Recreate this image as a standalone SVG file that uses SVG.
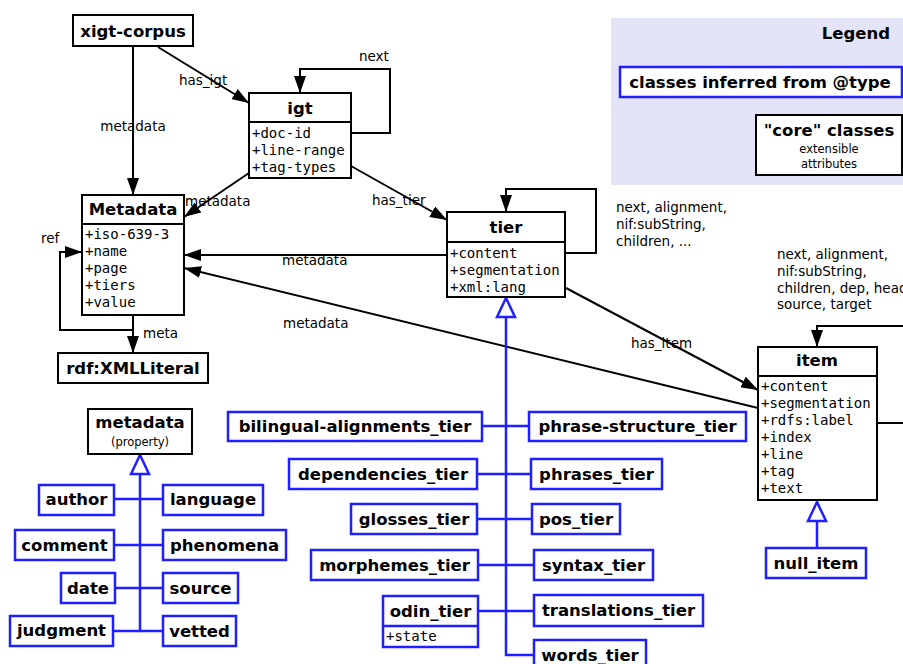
<svg xmlns="http://www.w3.org/2000/svg" width="903" height="664" viewBox="0 0 903 664">
<defs>
<style>
.box{fill:#fff;stroke:#000;stroke-width:2}
.bbox{fill:#fff;stroke:#1f1fff;stroke-width:2.5}
.t{font-family:"DejaVu Sans",sans-serif;font-weight:bold;font-size:16.5px;text-anchor:middle;fill:#000}
.a{font-family:"DejaVu Sans Mono",monospace;font-size:14px;fill:#000}
.l{font-family:"DejaVu Sans",sans-serif;font-size:13.5px;fill:#000}
.s{font-family:"DejaVu Sans",sans-serif;font-size:11.5px;text-anchor:middle;fill:#000}
.e{stroke:#000;stroke-width:2;fill:none}
.be{stroke:#1f1fff;stroke-width:2.5;fill:none}
.tri{fill:#fff;stroke:#1f1fff;stroke-width:2.5}
</style>
<marker id="ah" markerWidth="17" markerHeight="12" refX="17" refY="6" orient="auto" markerUnits="userSpaceOnUse"><path d="M0,0 L17,6 L0,12 z" fill="#000"/></marker>
</defs>
<rect width="903" height="664" fill="#fff"/>

<g id="legend">
<rect x="611" y="18" width="292" height="167" fill="#e4e4f8"/>
<text class="t" x="890" y="39" style="text-anchor:end">Legend</text>
<rect class="bbox" x="620" y="67" width="282" height="30"/>
<text class="t" x="760" y="88">classes inferred from @type</text>
<rect class="box" x="756" y="115" width="146" height="60"/>
<text class="t" x="829" y="136">"core" classes</text>
<text class="s" x="829" y="153">extensible</text>
<text class="s" x="829" y="168">attributes</text>
</g>

<g id="connectors">
<line class="e" x1="158" y1="47" x2="249" y2="103" marker-end="url(#ah)"/>
<line class="e" x1="133" y1="47" x2="133" y2="195" marker-end="url(#ah)"/>
<path class="e" d="M351,133 H390 V69 H300 V93" marker-end="url(#ah)"/>
<line class="e" x1="249" y1="173" x2="184" y2="217" marker-end="url(#ah)"/>
<line class="e" x1="351" y1="166" x2="447" y2="220" marker-end="url(#ah)"/>
<path class="e" d="M565,253 H596 V189 H506 V212" marker-end="url(#ah)"/>
<line class="e" x1="447" y1="255" x2="184" y2="255" marker-end="url(#ah)"/>
<line class="e" x1="758" y1="408" x2="184" y2="268" marker-end="url(#ah)"/>
<line class="e" x1="566" y1="288" x2="758" y2="390" marker-end="url(#ah)"/>
<path class="e" d="M877,423 H910 V326 H817 V347" marker-end="url(#ah)"/>
<path class="e" d="M133,315 V330 H60 V252 H82" marker-end="url(#ah)"/>
<line class="e" x1="133" y1="315" x2="133" y2="353" marker-end="url(#ah)"/>

<path class="be" d="M140,474 V631 H163"/>
<line class="be" x1="114" y1="499" x2="163" y2="499"/>
<line class="be" x1="114" y1="545" x2="163" y2="545"/>
<line class="be" x1="115" y1="588" x2="163" y2="588"/>
<line class="be" x1="113" y1="631" x2="140" y2="631"/>
<polygon class="tri" points="140,455 131,474 149,474"/>

<path class="be" d="M506,317 V655 H534"/>
<line class="be" x1="482" y1="426" x2="529" y2="426"/>
<line class="be" x1="477" y1="474" x2="531" y2="474"/>
<line class="be" x1="477" y1="519" x2="532" y2="519"/>
<line class="be" x1="478" y1="565" x2="534" y2="565"/>
<line class="be" x1="478" y1="611" x2="534" y2="611"/>
<polygon class="tri" points="506,298 497,317 515,317"/>

<line class="be" x1="817" y1="521" x2="817" y2="548"/>
<polygon class="tri" points="817,502 808,521 826,521"/>

<text class="l" x="359" y="61">next</text>
<text class="l" x="179" y="85">has_igt</text>
<text class="l" x="133" y="131" style="text-anchor:middle">metadata</text>
<text class="l" x="185" y="206">metadata</text>
<text class="l" x="372" y="205">has_tier</text>
<text class="l" x="41" y="243">ref</text>
<text class="l" x="143" y="338">meta</text>
<text class="l" x="282" y="265">metadata</text>
<text class="l" x="283" y="328">metadata</text>
<text class="l" x="631" y="348">has_item</text>
<text class="l" x="616" y="212">next, alignment,</text>
<text class="l" x="616" y="229">nif:subString,</text>
<text class="l" x="616" y="246">children, ...</text>
<text class="l" x="777" y="259">next, alignment,</text>
<text class="l" x="777" y="276">nif:subString,</text>
<text class="l" x="777" y="293">children, dep, head</text>
<text class="l" x="777" y="309">source, target</text>
</g>

<g id="xigt-corpus">
<rect class="box" x="73" y="15" width="120" height="31"/>
<text class="t" x="133" y="37">xigt-corpus</text>
</g>

<g id="igt">
<rect class="box" x="249" y="93" width="102" height="85"/>
<line class="e" x1="249" y1="122" x2="351" y2="122"/>
<text class="t" x="300" y="114">igt</text>
<text class="a" x="252" y="138">+doc-id</text>
<text class="a" x="252" y="155">+line-range</text>
<text class="a" x="252" y="172">+tag-types</text>
</g>

<g id="Metadata">
<rect class="box" x="82" y="195" width="102" height="120"/>
<line class="e" x1="82" y1="224" x2="184" y2="224"/>
<text class="t" x="133" y="215">Metadata</text>
<text class="a" x="85" y="239">+iso-639-3</text>
<text class="a" x="85" y="256">+name</text>
<text class="a" x="85" y="273">+page</text>
<text class="a" x="85" y="290">+tiers</text>
<text class="a" x="85" y="307">+value</text>
</g>

<g id="rdf-XMLLiteral">
<rect class="box" x="58" y="353" width="150" height="30"/>
<text class="t" x="133" y="374">rdf:XMLLiteral</text>
</g>

<g id="tier">
<rect class="box" x="447" y="212" width="118" height="85"/>
<line class="e" x1="447" y1="242" x2="565" y2="242"/>
<text class="t" x="506" y="233">tier</text>
<text class="a" x="450" y="258">+content</text>
<text class="a" x="450" y="275">+segmentation</text>
<text class="a" x="450" y="292">+xml:lang</text>
</g>

<g id="item">
<rect class="box" x="758" y="347" width="119" height="153"/>
<line class="e" x1="758" y1="376" x2="877" y2="376"/>
<text class="t" x="817" y="366">item</text>
<text class="a" x="761" y="391">+content</text>
<text class="a" x="761" y="408">+segmentation</text>
<text class="a" x="761" y="425">+rdfs:label</text>
<text class="a" x="761" y="442">+index</text>
<text class="a" x="761" y="459">+line</text>
<text class="a" x="761" y="476">+tag</text>
<text class="a" x="761" y="493">+text</text>
</g>

<g id="null_item">
<rect class="bbox" x="766" y="548" width="100" height="30"/>
<text class="t" x="816" y="569">null_item</text>
</g>

<g id="metadata-property">
<rect class="box" x="88" y="409" width="104" height="45"/>
<text class="t" x="140" y="428">metadata</text>
<text class="s" x="140" y="446">(property)</text>
</g>

<g id="author"><rect class="bbox" x="39" y="485" width="75" height="30"/><text class="t" x="76.5" y="505">author</text></g>
<g id="comment"><rect class="bbox" x="15" y="530" width="99" height="30"/><text class="t" x="64.5" y="551">comment</text></g>
<g id="date"><rect class="bbox" x="61" y="573" width="54" height="30"/><text class="t" x="88" y="594">date</text></g>
<g id="judgment"><rect class="bbox" x="10" y="616" width="103" height="30"/><text class="t" x="61.5" y="636">judgment</text></g>
<g id="language"><rect class="bbox" x="163" y="485" width="100" height="30"/><text class="t" x="213" y="505">language</text></g>
<g id="phenomena"><rect class="bbox" x="163" y="530" width="123" height="30"/><text class="t" x="224.5" y="551">phenomena</text></g>
<g id="source"><rect class="bbox" x="163" y="573" width="75" height="30"/><text class="t" x="200.5" y="594">source</text></g>
<g id="vetted"><rect class="bbox" x="163" y="616" width="73" height="30"/><text class="t" x="199.5" y="637">vetted</text></g>

<g id="bilingual-alignments_tier"><rect class="bbox" x="228" y="412" width="254" height="29"/><text class="t" x="355" y="432">bilingual-alignments_tier</text></g>
<g id="dependencies_tier"><rect class="bbox" x="289" y="459" width="188" height="30"/><text class="t" x="383" y="480">dependencies_tier</text></g>
<g id="glosses_tier"><rect class="bbox" x="351" y="504" width="126" height="30"/><text class="t" x="414" y="525">glosses_tier</text></g>
<g id="morphemes_tier"><rect class="bbox" x="311" y="550" width="167" height="30"/><text class="t" x="394.5" y="571">morphemes_tier</text></g>
<g id="odin_tier">
<rect class="bbox" x="383" y="596" width="95" height="51"/>
<line class="be" x1="383" y1="626" x2="478" y2="626"/>
<text class="t" x="430.5" y="617">odin_tier</text>
<text class="a" x="386" y="641">+state</text>
</g>
<g id="phrase-structure_tier"><rect class="bbox" x="529" y="412" width="217" height="29"/><text class="t" x="637.5" y="432">phrase-structure_tier</text></g>
<g id="phrases_tier"><rect class="bbox" x="531" y="459" width="131" height="30"/><text class="t" x="596.5" y="480">phrases_tier</text></g>
<g id="pos_tier"><rect class="bbox" x="532" y="504" width="88" height="30"/><text class="t" x="576" y="525">pos_tier</text></g>
<g id="syntax_tier"><rect class="bbox" x="534" y="550" width="119" height="30"/><text class="t" x="593.5" y="571">syntax_tier</text></g>
<g id="translations_tier"><rect class="bbox" x="534" y="595" width="169" height="31"/><text class="t" x="618.5" y="616">translations_tier</text></g>
<g id="words_tier"><rect class="bbox" x="534" y="640" width="112" height="30"/><text class="t" x="590" y="661">words_tier</text></g>
</svg>
